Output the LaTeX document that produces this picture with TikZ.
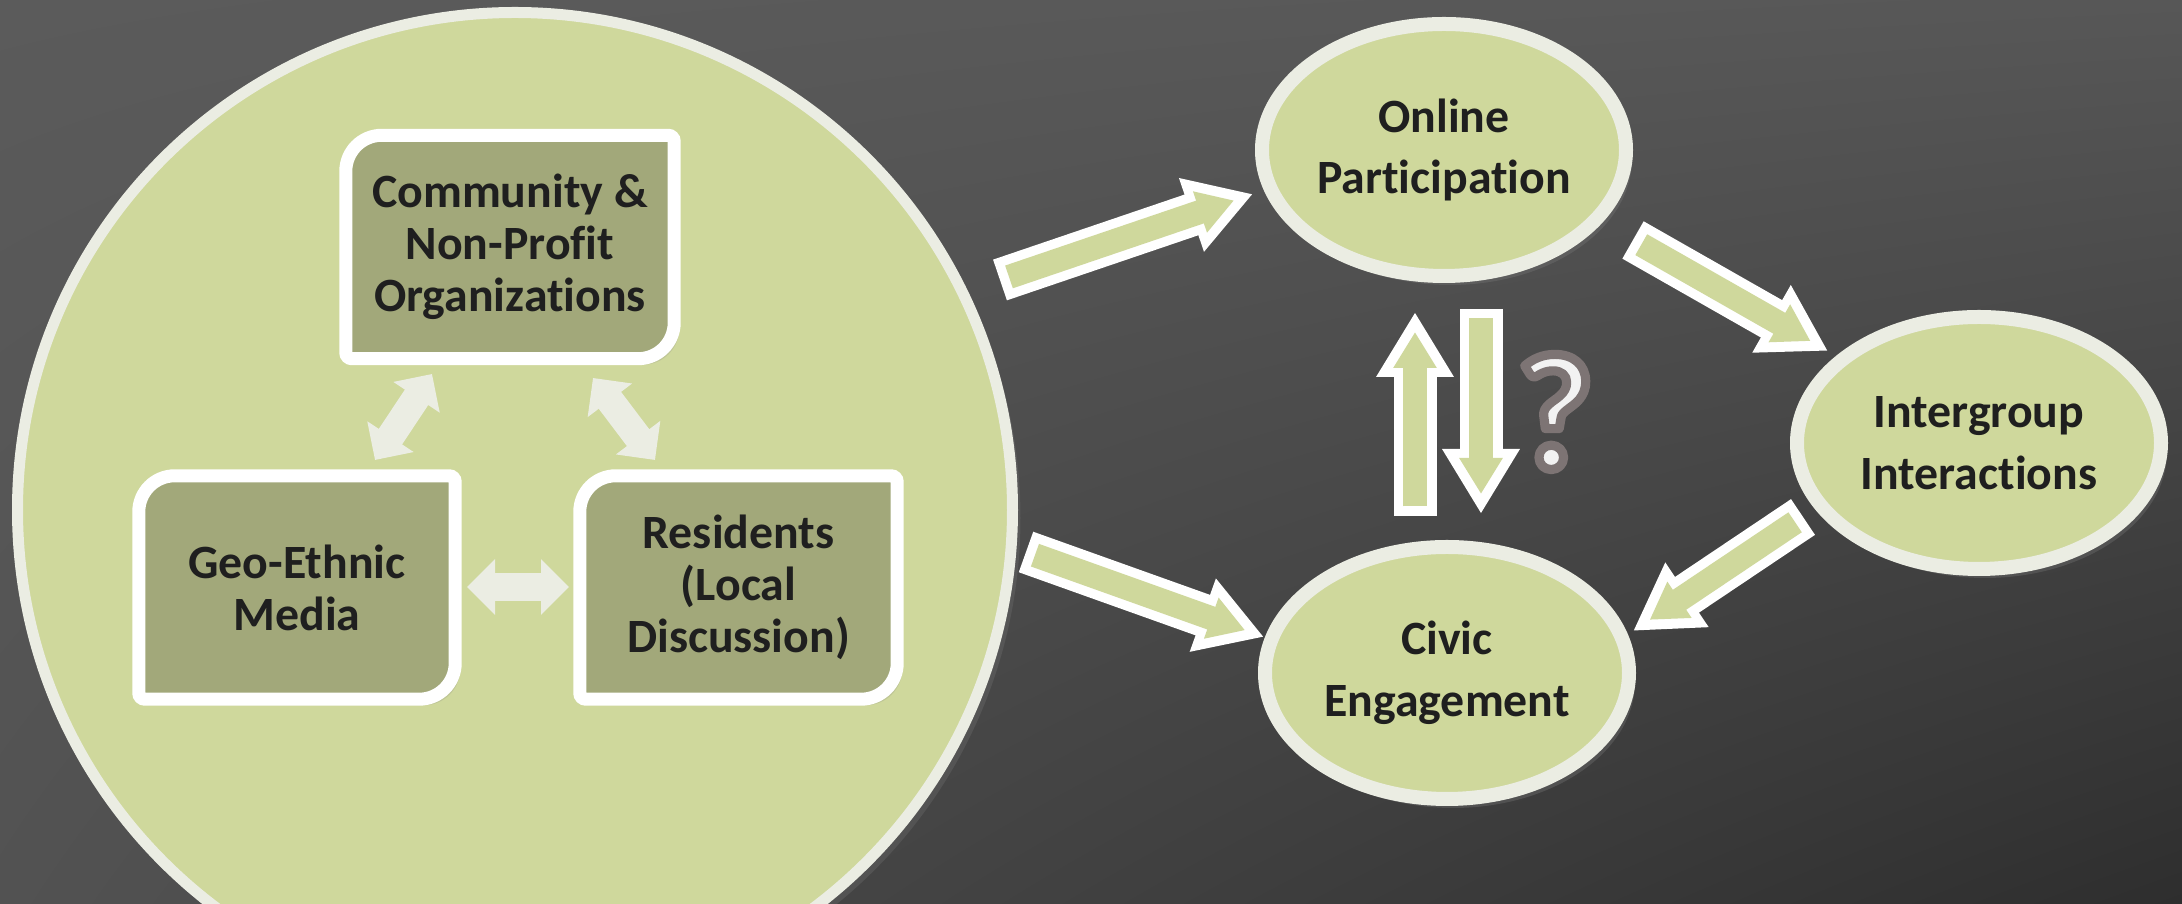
\documentclass[tikz,border=0pt]{standalone}
\usepackage{fontspec}
\setmainfont{Carlito}[Ligatures=NoCommon]
\usepackage{tikz}
\usetikzlibrary{shapes.geometric,arrows.meta,calc,shadings,shadows}
\definecolor{leaf}{HTML}{CFD89C}
\definecolor{moss}{HTML}{A2A87A}
\definecolor{rim}{HTML}{EBEDE3}
\definecolor{ink}{HTML}{1F1F1F}
\definecolor{qwhite}{HTML}{F2F2F2}
\definecolor{bgUL}{HTML}{5B5B5B}
\definecolor{bgUR}{HTML}{575757}
\definecolor{bgLL}{HTML}{525252}
\definecolor{bgLR}{HTML}{2E2E2E}

\tikzset{
  hub/.style={circle, draw=rim, line width=1.1mm, fill=leaf, minimum size=99.5mm, inner sep=0,
    drop shadow={opacity=0.25, shadow xshift=0.8mm, shadow yshift=-0.8mm}},
  boxspot/.style={inner sep=0, minimum height=22.2mm},
  boxline/.style={draw=white, line width=1.3mm, fill=moss,
    drop shadow={opacity=0.2, shadow xshift=0.5mm, shadow yshift=-0.6mm}},
  boxtext/.style={inner sep=0, align=center, text=ink, font=\fontsize{13.6}{14.8}\selectfont\bfseries},
  oval/.style={ellipse, draw=rim, line width=1.4mm, fill=leaf, inner sep=-2mm,
    minimum width=36.4mm, minimum height=25.2mm, align=center, text=ink,
    font=\fontsize{13.6}{17.6}\selectfont\bfseries,
    drop shadow={opacity=0.3, shadow xshift=0.6mm, shadow yshift=-0.9mm}},
  twoway/.style={draw=rim, line width=2.8mm,
    {Triangle[width=5.4mm,length=2.8mm]}-{Triangle[width=5.4mm,length=2.8mm]}},
  fat/.style={draw=leaf, line width=2.4mm, shorten <=0.95mm, shorten >=2mm,
    -{Triangle[width=4.1mm,length=3.6mm]},
    preaction={draw=white, line width=4.3mm, shorten <=0pt, shorten >=0pt,
      -{Triangle[width=7.3mm,length=6.5mm]}}},
  qmark/.style={inner sep=0, text=qwhite, font=\fontsize{47}{47}\selectfont\bfseries}
}

% box with two round corners
\newcommand{\frameof}[1]{%
  \draw[boxline] (#1.west) [rounded corners=3.6mm] -- (#1.north west)
    [rounded corners=0.6mm] -- (#1.north east) [rounded corners=3.6mm] -- (#1.south east)
    [rounded corners=0.6mm] -- (#1.south west) -- cycle;}

% outlined glyph (fill + stroke)
\newcommand{\outlined}[1]{%
  \special{pdf:literal direct 0.49 0.455 0.455 RG 2.6 w 1 j 2 Tr}#1\special{pdf:literal direct 0 Tr}}

\begin{document}
\begin{tikzpicture}[x=0.1mm,y=-0.1mm]

\useasboundingbox (0,0) rectangle (2182,904);
\clip (0,0) rectangle (2182,904);
\shade[upper left=bgUL, upper right=bgUR, lower left=bgLL, lower right=bgLR] (0,0) rectangle (2182,904);

\node[hub] (area) at (515,510) {};

\node[boxspot, minimum width=32.7mm] (comm) at (510,247) {};
\node[boxspot, minimum width=31.5mm] (geo) at (297,587.5) {};
\node[boxspot, minimum width=31.6mm] (res) at (738.5,587.5) {};
\frameof{comm}
\frameof{geo}
\frameof{res}
\node[boxtext] (commtext) at (comm) {Community \&\\Non-Profit\\Organizations};
\node[boxtext] (geotext) at (geo) {Geo-Ethnic\\Media};
\node[boxtext] (restext) at (res) {Residents\\(Local\\Discussion)};

\coordinate (cg1) at (432,374);
\coordinate (cg2) at (375,460);
\coordinate (cr1) at (593,378);
\coordinate (cr2) at (655,460);
\coordinate (gr1) at (467,587);
\coordinate (gr2) at (569,587);
\draw[twoway] (cg1) -- (cg2);
\draw[twoway] (cr1) -- (cr2);
\draw[twoway] (gr1) -- (gr2);

\node[oval] (online) at (1444,150) {Online\\Participation};
\node[oval] (civic) at (1447,673) {Civic\\Engagement};
\node[oval] (inter) at (1979,443) {Intergroup\\Interactions};

\coordinate (t1) at (1000,280);
\coordinate (h1) at (1253,194);
\coordinate (t2) at (1026,552);
\coordinate (h2) at (1264,637);
\coordinate (t3) at (1633,240);
\coordinate (h3) at (1828,351);
\coordinate (t4) at (1803,517);
\coordinate (h4) at (1633,631);
\coordinate (tu) at (1415,516);
\coordinate (hu) at (1415,312);
\coordinate (td) at (1481,309);
\coordinate (hd) at (1481,514);
\draw[fat] (t1) -- (h1);
\draw[fat] (t2) -- (h2);
\draw[fat] (t3) -- (h3);
\draw[fat] (t4) -- (h4);
\draw[fat] (tu) -- (hu);
\draw[fat] (td) -- (hd);

\node[qmark] (quest) at (1555,412) {\outlined{?}};

\end{tikzpicture}
\end{document}
